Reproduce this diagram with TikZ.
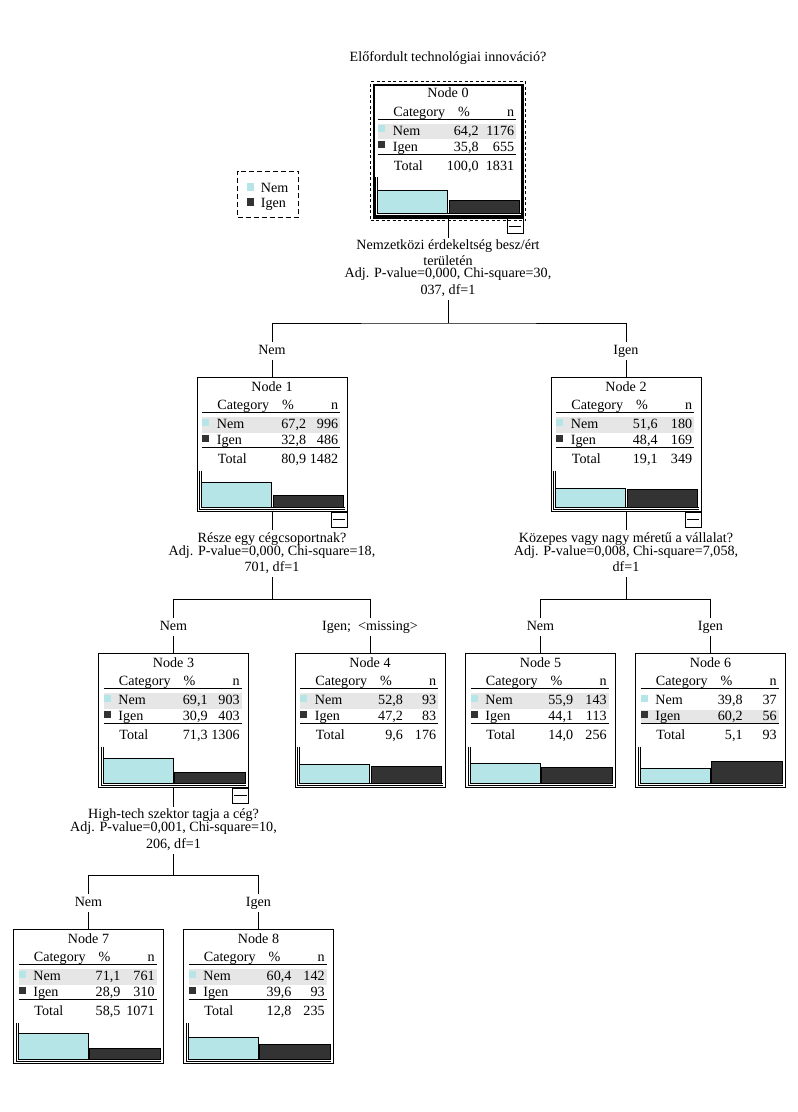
\documentclass[tikz,border=0pt]{standalone}
\usepackage{fontspec}
\setmainfont{Liberation Serif}
\definecolor{cyanbar}{HTML}{B6E5E8}
\definecolor{darkbar}{HTML}{333333}
\definecolor{hlgray}{HTML}{E6E6E6}
\newcommand\fs{\fontsize{14.1pt}{16pt}\selectfont}
\def\HLrow{1}
\def\PctX{108}
% #1 id, #2 L, #3 T, #4 nem %, #5 nem n, #6 igen %, #7 igen n, #8 total %, #9 total n
\newcommand\TreeNode[9]{%
  \node[nodebox] (n#1) at (#2+75,#3+67) {};
  \begin{scope}[shift={(#2,#3)}]
    \ifnum\HLrow=1\relax
      \fill[hlgray] (5,39.5) rectangle (143,55);
    \else
      \fill[hlgray] (5,56) rectangle (143,69.5);
    \fi
    \node[txt,anchor=base] (n#1-t) at (75,13.7) {Node #1};
    \node[txt,anchor=base west] (n#1-c) at (20,32.3) {Category};
    \node[txt,anchor=base] (n#1-p) at (91,32.3) {\%};
    \node[txt,anchor=base east] (n#1-n) at (141.5,32.3) {n};
    \draw (5,35) -- (143,35);
    \fill[cyanbar] (5,41) rectangle (12.3,48);
    \node[txt,anchor=base west] (n#1-a) at (19.5,51.3) {Nem};
    \node[txt,anchor=base east] (n#1-ap) at (\PctX,51.3) {#4};
    \node[txt,anchor=base east] (n#1-an) at (141.5,51.3) {#5};
    \fill[darkbar] (5,57) rectangle (12.3,64);
    \node[txt,anchor=base west] (n#1-b) at (19.5,67.2) {Igen};
    \node[txt,anchor=base east] (n#1-bp) at (\PctX,67.2) {#6};
    \node[txt,anchor=base east] (n#1-bn) at (141.5,67.2) {#7};
    \draw (5,70) -- (143,70);
    \node[txt,anchor=base west] (n#1-s) at (20.5,86.3) {Total};
    \node[txt,anchor=base east] (n#1-sp) at (\PctX,86.3) {#8};
    \node[txt,anchor=base east] (n#1-sn) at (141.5,86.3) {#9};
    \draw (2.5,93) -- (2.5,131.5) -- (147.5,131.5);
    \draw (4.5,93) -- (4.5,129.5) -- (147.5,129.5);
    \filldraw[fill=cyanbar,draw=black] (4.7,{129.5-36*(#5/#9)}) rectangle (74.7,129.5);
    \filldraw[fill=darkbar,draw=black] (76,{129.5-36*(#7/#9)}) rectangle (146.7,129.5);
  \end{scope}}
\newcommand\MinusBox[1]{%
  \node[minusbox] (m#1) at (n#1.south east) {};
  \draw ([xshift=2pt]m#1.west) -- ([xshift=-2pt]m#1.east);}
\begin{document}
\begin{tikzpicture}[x=1pt,y=-1pt,line width=0.8pt,
  every node/.style={font=\fs},
  nodebox/.style={draw,minimum width=150pt,minimum height=134pt,inner sep=0pt},
  txt/.style={inner sep=0pt},
  lbl/.style={inner xsep=1pt,inner ysep=2.5pt,text height=9pt,text depth=3pt,anchor=base},
  minusbox/.style={draw,minimum width=16pt,minimum height=15pt,inner sep=0pt,anchor=north east}]
\fill[white] (0,0) rectangle (798,1112);
\useasboundingbox (0,0) rectangle (798,1112);

\node[txt,anchor=base] (title) at (448,61) {Előfordult technológiai innováció?};

% legend
\node[draw,dash pattern=on 5pt off 3pt,minimum width=61pt,minimum height=46.5pt,inner sep=0pt] (legend) at (268,194.2) {};
\fill[cyanbar] (246.7,183.3) rectangle (254,191);
\fill[darkbar] (246.7,198.3) rectangle (254,205.7);
\node[txt,anchor=base west] (legNem) at (260.5,192.3) {Nem};
\node[txt,anchor=base west] (legIgen) at (260.5,207.7) {Igen};

% nodes
\def\HLrow{1}\def\PctX{106}
\TreeNode{0}{373}{84}{64,2}{1176}{35,8}{655}{100,0}{1831}
\node[draw,line width=2pt,minimum width=148pt,minimum height=132pt,inner sep=0pt] (n0f) at (448,151) {};
\node[draw,dash pattern=on 3pt off 2.5pt,minimum width=155pt,minimum height=139pt,inner sep=0pt] (n0d) at (448,151.3) {};
\def\PctX{109.5}
\TreeNode{1}{197}{377.5}{67,2}{996}{32,8}{486}{80,9}{1482}
\def\PctX{107}
\TreeNode{2}{551}{377.5}{51,6}{180}{48,4}{169}{19,1}{349}
\def\PctX{109.5}
\TreeNode{3}{98.5}{653.5}{69,1}{903}{30,9}{403}{71,3}{1306}
\def\PctX{108.3}
\TreeNode{4}{295}{653.5}{52,8}{93}{47,2}{83}{9,6}{176}
\def\PctX{108}
\TreeNode{5}{465.5}{653.5}{55,9}{143}{44,1}{113}{14,0}{256}
\def\HLrow{2}\def\PctX{107.5}
\TreeNode{6}{635.5}{653.5}{39,8}{37}{60,2}{56}{5,1}{93}
\def\HLrow{1}\def\PctX{107.3}
\TreeNode{7}{13.5}{929.5}{71,1}{761}{28,9}{310}{58,5}{1071}
\def\PctX{108.3}
\TreeNode{8}{183.5}{929.5}{60,4}{142}{39,6}{93}{12,8}{235}

\MinusBox{0}
\MinusBox{1}
\MinusBox{2}
\MinusBox{3}

% split 0
\node[lbl] (s0a) at (448,249.5) {Nemzetközi érdekeltség besz/ért};
\node[lbl] (s0b) at (448,265.5) {területén};
\node[lbl] (s0c) at (448,277.5) {Adj. P-value=0,000, Chi-square=30,};
\node[lbl] (s0d) at (448,294.5) {037, df=1};
\coordinate (h0) at (448,323);
\node[lbl] (b1) at (272,354) {Nem};
\node[lbl] (b2) at (626,354) {Igen};
\draw (n0.south) -- (s0a.north);
\draw (s0d.south) -- (h0);
\draw (b1.north) |- (h0) -| (b2.north);
\draw (b1.south) -- (n1.north);
\draw (b2.south) -- (n2.north);

% split 1
\node[lbl] (s1a) at (272,542) {Része egy cégcsoportnak?};
\node[lbl] (s1b) at (272,555.5) {Adj. P-value=0,000, Chi-square=18,};
\node[lbl] (s1c) at (272,571.5) {701, df=1};
\coordinate (h1) at (272,599.5);
\node[lbl] (b3) at (173.5,630) {Nem};
\node[lbl] (b4) at (370,630) {Igen;~~\textless missing\textgreater};
\draw (n1.south) -- (s1a.north);
\draw (s1c.south) -- (h1);
\draw (b3.north) |- (h1) -| (b4.north);
\draw (b3.south) -- (n3.north);
\draw (b4.south) -- (n4.north);

% split 2
\node[lbl] (s2a) at (626,542) {Közepes vagy nagy méretű a vállalat?};
\node[lbl] (s2b) at (626,555.5) {Adj. P-value=0,008, Chi-square=7,058,};
\node[lbl] (s2c) at (626,571.5) {df=1};
\coordinate (h2) at (626,599.5);
\node[lbl] (b5) at (540.5,630) {Nem};
\node[lbl] (b6) at (710.5,630) {Igen};
\draw (n2.south) -- (s2a.north);
\draw (s2c.south) -- (h2);
\draw (b5.north) |- (h2) -| (b6.north);
\draw (b5.south) -- (n5.north);
\draw (b6.south) -- (n6.north);

% split 3
\node[lbl] (s3a) at (173.5,818.5) {High-tech szektor tagja a cég?};
\node[lbl] (s3b) at (173.5,831.5) {Adj. P-value=0,001, Chi-square=10,};
\node[lbl] (s3c) at (173.5,848) {206, df=1};
\coordinate (h3) at (173.5,875);
\node[lbl] (b7) at (88.5,906) {Nem};
\node[lbl] (b8) at (258.5,906) {Igen};
\draw (n3.south) -- (s3a.north);
\draw (s3c.south) -- (h3);
\draw (b7.north) |- (h3) -| (b8.north);
\draw (b7.south) -- (n7.north);
\draw (b8.south) -- (n8.north);
\end{tikzpicture}
\end{document}
